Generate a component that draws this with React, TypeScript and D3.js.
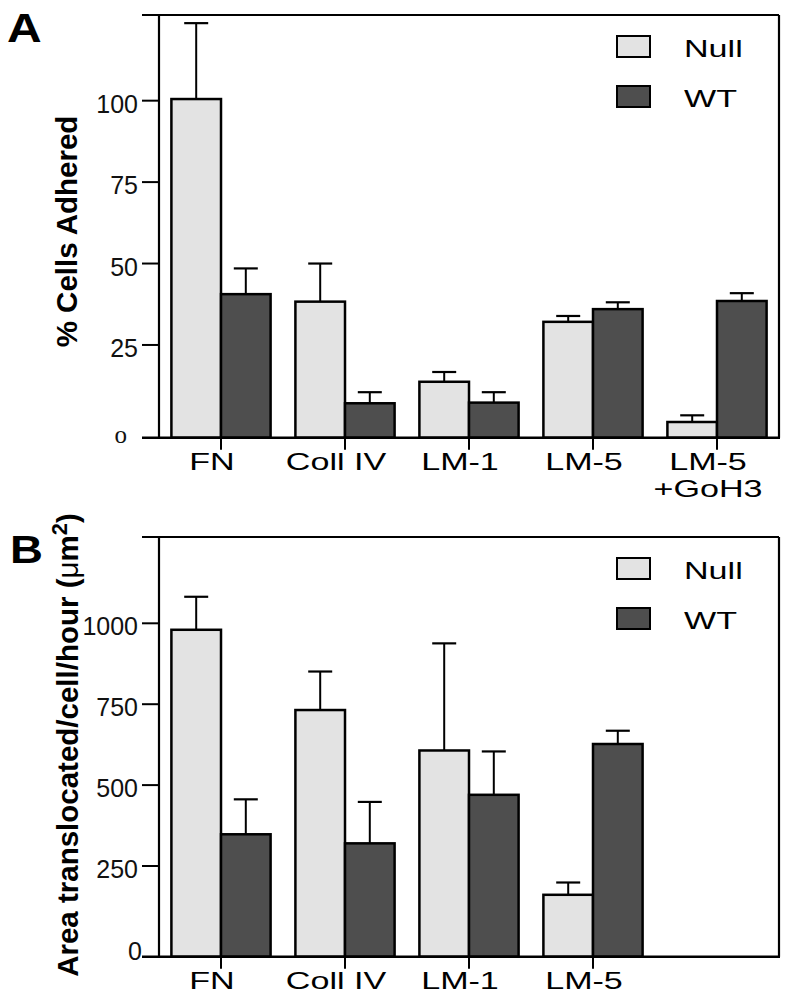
import React from 'react';
import * as d3 from 'd3';

// ---------- Data ----------
const seriesNames = ['Null', 'WT'];

const categoriesA = ['FN', 'Coll IV', 'LM-1', 'LM-5', 'LM-5\n+GoH3'];
const nullA = [100.5, 38.3, 13.7, 32.1, 1.35];
const nullErrA = [23.3, 11.7, 3.0, 1.8, 2.05];
const wtA = [40.6, 7.1, 7.3, 36.0, 38.5];
const wtErrA = [7.9, 3.4, 3.2, 2.1, 2.4];
const ticksA = [0, 25, 50, 75, 100];
const tickLabelsA = ['o', '25', '50', '75', '100'];

const categoriesB = ['FN', 'Coll IV', 'LM-1', 'LM-5'];
const nullB = [980, 732, 607, 161];
const nullErrB = [102, 119, 331, 38];
const wtB = [348, 320, 470, 627];
const wtErrB = [108, 128, 134, 41];
const ticksB = [0, 250, 500, 750, 1000];
const tickLabelsB = ['0', '250', '500', '750', '1000'];

// ---------- Style ----------
const FILL: Record<string, string> = { Null: '#e3e3e3', WT: '#4e4e4e' };
const SANS = '"Liberation Sans", Arial, Helvetica, sans-serif';
const SERIF = '"Liberation Serif", "Times New Roman", serif';
const X_LEFT = 159;
const X_RIGHT = 779;
const STEP = 124;

type PanelProps = {
  letter: string;
  letterX: number;
  letterY: number;
  letterSize: number;
  top: number;
  base: number;
  domain: [number, number];
  categories: string[];
  nullVals: number[];
  nullErr: number[];
  wtVals: number[];
  wtErr: number[];
  ticks: number[];
  tickLabels: string[];
  zeroX: number;
  zeroDy: number;
  zeroFont: string;
  yLabel: React.ReactNode;
  yLabelX: number;
  yLabelY: number;
};

function Panel(p: PanelProps) {
  const y = d3.scaleLinear().domain(p.domain).range([p.base, p.top]);
  const x = d3
    .scaleBand<string>()
    .domain(p.categories)
    .range([X_LEFT, X_LEFT + STEP * p.categories.length])
    .paddingInner(0.2)
    .paddingOuter(0.1);
  const sub = d3.scaleBand<string>().domain(seriesNames).range([0, x.bandwidth()]);
  const series = [
    { name: 'Null', vals: p.nullVals, errs: p.nullErr },
    { name: 'WT', vals: p.wtVals, errs: p.wtErr },
  ];
  const tickY = (v: number) => (v === 0 ? p.base : y(v));

  return (
    <g>
      {/* panel letter */}
      <text
        transform={`translate(${p.letterX},${p.letterY}) scale(1.2,1)`}
        fontFamily={SANS}
        fontWeight="bold"
        fontSize={p.letterSize}
        fill="#000"
      >
        {p.letter}
      </text>

      {/* y label */}
      <text
        transform={`translate(${p.yLabelX},${p.yLabelY}) rotate(-90)`}
        textAnchor="middle"
        fontFamily={SANS}
        fontWeight="bold"
        fontSize={29.5}
        fill="#000"
      >
        {p.yLabel}
      </text>

      {/* bars */}
      {series.map((s) =>
        p.categories.map((c, i) => {
          const x0 = (x(c) as number) + (sub(s.name) as number);
          const w = sub.bandwidth();
          const yt = y(s.vals[i]);
          const ye = y(s.vals[i] + s.errs[i]);
          const cx = x0 + w / 2;
          return (
            <g key={s.name + c}>
              <line x1={cx} x2={cx} y1={yt} y2={ye} stroke="#000" strokeWidth={2} />
              <line x1={cx - 12} x2={cx + 12} y1={ye} y2={ye} stroke="#000" strokeWidth={2.2} />
              <rect
                x={x0}
                y={yt}
                width={w}
                height={p.base - yt}
                fill={FILL[s.name]}
                stroke="#000"
                strokeWidth={2.5}
              />
            </g>
          );
        })
      )}

      {/* frame */}
      <line x1={142} x2={X_RIGHT} y1={p.top} y2={p.top} stroke="#000" strokeWidth={2} />
      <line x1={X_LEFT} x2={X_LEFT} y1={p.top} y2={p.base} stroke="#000" strokeWidth={2.2} />
      <line x1={X_RIGHT} x2={X_RIGHT} y1={p.top} y2={p.base} stroke="#000" strokeWidth={2.2} />
      <line x1={142} x2={X_RIGHT + 1} y1={p.base} y2={p.base} stroke="#000" strokeWidth={2.6} />

      {/* y ticks */}
      {p.ticks.map((t, i) => {
        const ty = tickY(t);
        const isZero = t === 0;
        return (
          <g key={'t' + t}>
            {!isZero && <line x1={142} x2={X_LEFT} y1={ty} y2={ty} stroke="#000" strokeWidth={2} />}
            <text
              x={isZero ? p.zeroX : 138}
              y={ty + (isZero ? p.zeroDy : 12)}
              textAnchor="end"
              fontFamily={isZero ? p.zeroFont : SANS}
              fontSize={25}
              fill="#111"
            >
              {p.tickLabels[i]}
            </text>
          </g>
        );
      })}

      {/* x ticks and labels */}
      {p.categories.map((c) => {
        const cx = (x(c) as number) + x.bandwidth() / 2;
        const lines = c.split('\n');
        return (
          <g key={'x' + c}>
            <line x1={cx} x2={cx} y1={p.base} y2={p.base + 12} stroke="#000" strokeWidth={2} />
            {lines.map((ln, j) => (
              <text
                key={ln}
                transform={`translate(${cx - 9},${p.base + 32 + j * 27}) scale(1.42,1)`}
                textAnchor="middle"
                fontFamily={SANS}
                fontSize={24}
                fill="#000"
              >
                {ln}
              </text>
            ))}
          </g>
        );
      })}

      {/* legend */}
      {seriesNames.map((n, i) => {
        const by = p.top + 21 + i * 50;
        return (
          <g key={'lg' + n}>
            <rect x={617} y={by} width={33} height={21} fill={FILL[n]} stroke="#000" strokeWidth={2} />
            <text
              transform={`translate(684,${by + 21}) scale(1.42,1)`}
              fontFamily={SANS}
              fontSize={24}
              fill="#000"
            >
              {n}
            </text>
          </g>
        );
      })}
    </g>
  );
}

export default function App() {
  return (
    <svg
      width={790}
      height={995}
      viewBox="0 0 790 995"
      style={{ position: 'absolute', left: 0, top: 0, background: '#fff', display: 'block' }}
    >
      <rect x={0} y={0} width={790} height={995} fill="#fff" />
      <Panel
        letter="A"
        letterX={7}
        letterY={42}
        letterSize={40}
        top={15}
        base={437.7}
        domain={[-3.47, 126.3]}
        categories={categoriesA}
        nullVals={nullA}
        nullErr={nullErrA}
        wtVals={wtA}
        wtErr={wtErrA}
        ticks={ticksA}
        tickLabels={tickLabelsA}
        zeroX={127}
        zeroDy={5.5}
        zeroFont={SERIF}
        yLabel="% Cells Adhered"
        yLabelX={77}
        yLabelY={231.5}
      />
      <Panel
        letter="B"
        letterX={10}
        letterY={563}
        letterSize={38}
        top={537}
        base={956.7}
        domain={[-30.3, 1266.7]}
        categories={categoriesB}
        nullVals={nullB}
        nullErr={nullErrB}
        wtVals={wtB}
        wtErr={wtErrB}
        ticks={ticksB}
        tickLabels={tickLabelsB}
        zeroX={142}
        zeroDy={3.3}
        zeroFont={SANS}
        yLabel={
          <>
            <tspan>Area translocated/cell/hour (</tspan>
            <tspan fontWeight="normal">μ</tspan>
            <tspan>m</tspan>
            <tspan dy={-11} fontSize={22}>2</tspan>
            <tspan dy={11}>)</tspan>
          </>
        }
        yLabelX={78}
        yLabelY={745}
      />
    </svg>
  );
}
